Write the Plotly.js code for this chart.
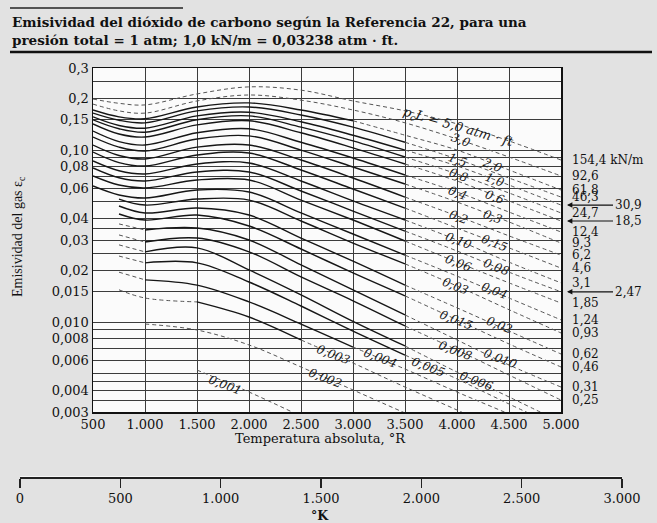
<!DOCTYPE html>
<html><head><meta charset="utf-8">
<script src="https://cdn.plot.ly/plotly-3.0.1.min.js"></script>
<style>html,body{margin:0;padding:0;background:#e2e2e2;}#chart{width:657px;height:523px;}</style>
</head><body><div id="chart"></div>
<script>
// Absolute temperature nodes (°R)
const tempR = [500, 750, 1000, 1500, 2000, 2500, 3000, 3500, 4000, 4500, 5000];

// Emissivity of CO2 for each pcL (atm·ft)
const eps_pL5_0   = [0.198, 0.187, 0.183, 0.212, 0.233, 0.223, 0.193, 0.169, 0.142, 0.113, 0.0875];
const eps_pL3_0   = [0.185, 0.169, 0.164, 0.193, 0.209, 0.195, 0.171, 0.144, 0.116, 0.0911, 0.0707];
const eps_pL2_0   = [0.171, 0.156, 0.152, 0.178, 0.188, 0.171, 0.148, 0.122, 0.100, 0.0766, 0.0586];
const eps_pL1_5   = [0.164, 0.149, 0.144, 0.169, 0.178, 0.160, 0.136, 0.111, 0.0887, 0.0688, 0.0533];
const eps_pL1_0   = [0.156, 0.139, 0.134, 0.158, 0.166, 0.146, 0.122, 0.100, 0.0808, 0.0626, 0.0479];
const eps_pL0_8   = [0.150, 0.133, 0.127, 0.150, 0.158, 0.136, 0.113, 0.0911, 0.0726, 0.0563, 0.0431];
const eps_pL0_6   = [0.142, 0.124, 0.119, 0.140, 0.148, 0.126, 0.103, 0.0830, 0.0661, 0.0506, 0.0387];
const eps_pL0_4   = [0.129, 0.112, 0.107, 0.126, 0.133, 0.111, 0.0899, 0.0716, 0.0570, 0.0436, 0.0334];
const eps_pL0_3   = [0.119, 0.104, 0.0987, 0.116, 0.121, 0.100, 0.0797, 0.0635, 0.0499, 0.0382, 0.0288];
const eps_pL0_2   = [0.107, 0.0930, 0.0887, 0.104, 0.107, 0.0875, 0.0688, 0.0533, 0.0414, 0.0317, 0.0245];
const eps_pL0_15  = [0.0974, 0.0846, 0.0808, 0.0936, 0.0961, 0.0766, 0.0594, 0.0460, 0.0352, 0.0270, 0.0206];
const eps_pL0_10  = [0.0864, 0.0758, 0.0726, 0.0830, 0.0841, 0.0661, 0.0506, 0.0392, 0.0300, 0.0223, 0.0169];
const eps_pL0_08  = [0.0787, 0.0690, 0.0661, 0.0746, 0.0746, 0.0578, 0.0442, 0.0338, 0.0259, 0.0195, 0.0150];
const eps_pL0_06  = [0.0707, 0.0626, 0.0602, 0.0670, 0.0670, 0.0512, 0.0392, 0.0296, 0.0223, 0.0169, 0.0129];
const eps_pL0_04  = [0.0618, 0.0548, 0.0526, 0.0586, 0.0570, 0.0431, 0.0325, 0.0245, 0.0185, 0.0138, 0.0103];
const eps_pL0_03  = [null, 0.0519, 0.0479, 0.0519, 0.0512, 0.0387, 0.0288, 0.0218, 0.0162, 0.0118, 0.00864];
const eps_pL0_02  = [null, 0.0473, 0.0431, 0.0460, 0.0419, 0.0308, 0.0226, 0.0164, 0.0121, 0.00887, 0.00652];
const eps_pL0_015 = [null, 0.0425, 0.0392, 0.0419, 0.0362, 0.0266, 0.0193, 0.0142, 0.0103, 0.00746, 0.00548];
const eps_pL0_010 = [null, 0.0372, 0.0343, 0.0352, 0.0300, 0.0215, 0.0154, 0.0110, 0.00787, 0.00563, 0.00419];
const eps_pL0_008 = [null, 0.0321, 0.0292, 0.0308, 0.0256, 0.0183, 0.0133, 0.00949, 0.00688, 0.00492, 0.00352];
const eps_pL0_006 = [null, 0.0281, 0.0256, 0.0270, 0.0201, 0.0144, 0.0101, 0.00726, 0.00512, 0.00367, 0.00262];
const eps_pL0_005 = [null, 0.0242, 0.0221, 0.0221, 0.0171, 0.0124, 0.00887, 0.00643, 0.00467, 0.00334, 0.00242];
const eps_pL0_004 = [null, 0.0195, 0.0176, 0.0164, 0.0131, 0.00974, 0.00716, 0.00533, 0.00392, 0.00292, 0.00215];
const eps_pL0_003 = [null, 0.0154, 0.0138, 0.0131, 0.0107, 0.00787, 0.00578, 0.00419, 0.00308, 0.00223, null];
const eps_pL0_002 = [null, null, 0.00974, 0.00899, 0.00736, 0.00548, 0.00403, 0.00296, 0.00218, null, null];
const eps_pL0_001 = [null, null, null, 0.00526, 0.00392, 0.00284, 0.00206, null, null, null, null];

// Range (°R) of the solid (measured) part of each curve; null = dashed only
const solidFromT = [null, null, 500, 500, 500, 500, 500, 500, 500, 500, 500, 500, 500, 500, 500, 750, 750, 750, 1000, 1000, 1000, 1000, 1000, 1500, null, null];
const solidToT   = [null, null, 3000, 3500, 3500, 3500, 3500, 3500, 3500, 3500, 3500, 3500, 3500, 3500, 3500, 3500, 3500, 3500, 3500, 3500, 3500, 3500, 3000, 2500, null, null];

// Curve labels drawn on the chart
const labelText = ['p<sub>c</sub>L = 5,0 atm · ft', '3,0', '1,5', '2,0', '0,8', '1,0', '0,4', '0,6', '0,2', '0,3', '0,10', '0,15', '0,06', '0,08', '0,03', '0,04', '0,015', '0,02', '0,008', '0,010', '0,005', '0,006', '0,003', '0,004', '0,002', '0,001'];
const labelT   = [4010, 4029, 4000, 4336, 4010, 4365, 4000, 4356, 4010, 4346, 4019, 4356, 4010, 4375, 3981, 4365, 3990, 4404, 3990, 4423, 3721, 4183, 2817, 3260, 2731, 1769];
const labelEps = [0.136, 0.114, 0.0875, 0.0819, 0.0716, 0.0670, 0.0563, 0.0533, 0.0408, 0.0408, 0.0296, 0.0288, 0.0221, 0.0209, 0.0162, 0.0152, 0.0103, 0.00961, 0.00679, 0.0061, 0.00548, 0.00454, 0.00643, 0.00618, 0.00473, 0.00431];

// kN/m equivalents at the right end
const rightText  = ['154,4 kN/m', '92,6', '61,8', '46,3', '30,9', '24,7', '18,5', '12,4', '9,3', '6,2', '4,6', '3,1', '2,47', '1,85', '1,24', '0,93', '0,62', '0,46', '0,31', '0,25'];
const rightEps   = [0.0875, 0.0707, 0.0586, 0.0533, 0.0479, 0.0431, 0.0387, 0.0334, 0.0288, 0.0245, 0.0206, 0.0169, 0.0150, 0.0129, 0.0103, 0.00864, 0.00652, 0.00548, 0.00419, 0.00352];
const rightArrow = [false, false, false, false, true, false, true, false, false, false, false, false, true, false, false, false, false, false, false, false];

// Axis ticks
const xTickVals = [500, 1000, 1500, 2000, 2500, 3000, 3500, 4000, 4500, 5000];
const xTickText = ['500', '1.000', '1.500', '2.000', '2.500', '3.000', '3.500', '4.000', '4.500', '5.000'];
const kTickVals = [0, 500, 1000, 1500, 2000, 2500, 3000];
const kTickText = ['0', '500', '1.000', '1.500', '2.000', '2.500', '3.000'];
const yTickVals = [0.3, 0.25, 0.2, 0.15, 0.10, 0.09, 0.08, 0.07, 0.06, 0.05, 0.04, 0.035, 0.03, 0.025, 0.02, 0.015, 0.010, 0.009, 0.008, 0.007, 0.006, 0.005, 0.0045, 0.004, 0.0035, 0.003];
const yTickText = ['0,3', ' ', '0,2', '0,15', '0,10', ' ', '0,08', ' ', '0,06', ' ', '0,04', ' ', '0,03', ' ', '0,02', '0,015', '0,010', ' ', '0,008', ' ', '0,006', ' ', ' ', '0,004', ' ', '0,003'];

const curves = [eps_pL5_0, eps_pL3_0, eps_pL2_0, eps_pL1_5, eps_pL1_0, eps_pL0_8, eps_pL0_6, eps_pL0_4, eps_pL0_3, eps_pL0_2,
  eps_pL0_15, eps_pL0_10, eps_pL0_08, eps_pL0_06, eps_pL0_04, eps_pL0_03, eps_pL0_02, eps_pL0_015, eps_pL0_010, eps_pL0_008,
  eps_pL0_006, eps_pL0_005, eps_pL0_004, eps_pL0_003, eps_pL0_002, eps_pL0_001];

// ---- geometry of the page (pixels) ----
const W = 657, H = 523, ML = 20, MR = 35, MT = 68, MB = 46;
const PW = W - ML - MR, PH = H - MT - MB;
const BOT = H - MB;
const px = x => (x - ML) / PW;
const py = y => (BOT - y) / PH;

const SERIF = 'DejaVu Serif, serif';
const TIMES = 'Liberation Serif, serif';

const traces = [];
const solidLine = {color: '#161616', width: 1.4, shape: 'spline', smoothing: 1};
const dashLine = {color: '#555', width: 1, dash: '4px,3px', shape: 'spline', smoothing: 1};
curves.forEach((vals, i) => {
  const pts = [];
  tempR.forEach((t, j) => { if (vals[j] != null) pts.push([t, vals[j]]); });
  const add = (ps, solid) => {
    if (ps.length < 2) return;
    traces.push({type: 'scatter', mode: 'lines', x: ps.map(p => p[0]), y: ps.map(p => p[1]),
      line: solid ? solidLine : dashLine, hoverinfo: 'skip', showlegend: false, xaxis: 'x', yaxis: 'y'});
  };
  const s0 = solidFromT[i], s1 = solidToT[i];
  if (s0 == null) { add(pts, false); }
  else {
    add(pts.filter(p => p[0] <= s0), false);
    add(pts.filter(p => p[0] >= s0 && p[0] <= s1), true);
    add(pts.filter(p => p[0] >= s1), false);
  }
});
// empty trace to host the °K scale
traces.push({type: 'scatter', mode: 'lines', x: [], y: [], xaxis: 'x2', yaxis: 'y2', showlegend: false, hoverinfo: 'skip'});

const annotations = [];
labelText.forEach((t, i) => {
  annotations.push({x: labelT[i], y: Math.log10(labelEps[i]), xref: 'x', yref: 'y', text: t, showarrow: false,
    xanchor: 'center', yanchor: 'middle',
    textangle: i === 0 ? 16 : 21, font: {family: SERIF, size: i === 0 ? 13 : 12, style: 'italic', color: '#1a1a1a'}});
});
rightText.forEach((t, i) => {
  if (rightArrow[i]) {
    annotations.push({x: 5000, y: Math.log10(rightEps[i]), xref: 'x', yref: 'y', text: t, showarrow: true,
      ax: 46, ay: 0, xanchor: 'left', yanchor: 'middle', xshift: 6, arrowhead: 2, arrowsize: 0.9, arrowwidth: 1.2, arrowcolor: '#111',
      font: {family: SERIF, size: 12, color: '#111'}});
  } else {
    annotations.push({x: 5000, y: Math.log10(rightEps[i]), xref: 'x', yref: 'y', text: t, showarrow: false,
      xanchor: 'left', yanchor: 'middle', xshift: 9, font: {family: SERIF, size: 12, color: '#111'}});
  }
});
annotations.push({xref: 'paper', yref: 'paper', x: px(10), y: py(22), xanchor: 'left', yanchor: 'middle', showarrow: false,
  text: 'Emisividad del dióxido de carbono según la Referencia 22, para una', font: {family: SERIF, size: 13.5, weight: 'bold', color: '#111'}});
annotations.push({xref: 'paper', yref: 'paper', x: px(10), y: py(40), xanchor: 'left', yanchor: 'middle', showarrow: false,
  text: 'presión total = 1 atm; 1,0 kN/m = 0,03238 atm · ft.', font: {family: SERIF, size: 13.5, weight: 'bold', color: '#111'}});
annotations.push({xref: 'paper', yref: 'paper', x: px(19), y: py(237), xanchor: 'center', yanchor: 'middle', textangle: -90, showarrow: false,
  text: 'Emisividad del gas ε<sub>c</sub>', font: {family: TIMES, size: 14, color: '#111'}});
annotations.push({xref: 'paper', yref: 'paper', x: px(320), y: py(438), xanchor: 'center', yanchor: 'middle', showarrow: false,
  text: 'Temperatura absoluta, °R', font: {family: SERIF, size: 13, color: '#111'}});
annotations.push({xref: 'paper', yref: 'paper', x: px(320), y: py(515), xanchor: 'center', yanchor: 'middle', showarrow: false,
  text: '°K', font: {family: SERIF, size: 12.5, weight: 'bold', color: '#111'}});

const layout = {
  width: W, height: H,
  margin: {l: ML, r: MR, t: MT, b: MB, pad: 0},
  paper_bgcolor: '#e2e2e2', plot_bgcolor: '#fbfbfb',
  showlegend: false,
  xaxis: {domain: [px(93), px(561)], range: [500, 5000], anchor: 'y', tickvals: xTickVals, ticktext: xTickText,
    showgrid: true, gridcolor: '#3c3c3c', gridwidth: 1, showline: true, mirror: true, linecolor: '#111', linewidth: 1.5,
    ticks: '', zeroline: false, tickfont: {family: SERIF, size: 13, color: '#111'}},
  yaxis: {type: 'log', domain: [py(412), 1], range: [Math.log10(0.003), Math.log10(0.3)], anchor: 'x',
    tickvals: yTickVals, ticktext: yTickText, showgrid: true, gridcolor: '#3c3c3c', gridwidth: 1,
    showline: true, mirror: true, linecolor: '#111', linewidth: 1.5, ticks: '', zeroline: false,
    tickfont: {family: SERIF, size: 13, color: '#111'}},
  xaxis2: {domain: [0, 1], range: [0, 3000], anchor: 'y2', tickvals: kTickVals, ticktext: kTickText,
    showgrid: false, zeroline: false, showline: true, linecolor: '#222', linewidth: 1.8,
    ticks: 'outside', ticklen: 9, tickwidth: 1.5, tickcolor: '#222', tickfont: {family: SERIF, size: 13, color: '#111'}},
  yaxis2: {domain: [0, 0.002], anchor: 'x2', visible: false, range: [0, 1]},
  annotations: annotations,
  shapes: [
    {type: 'line', xref: 'paper', yref: 'paper', x0: px(10), x1: px(183), y0: py(8), y1: py(8), line: {color: '#222', width: 1.3}},
    {type: 'line', xref: 'paper', yref: 'paper', x0: px(10), x1: px(652), y0: py(52), y1: py(52), line: {color: '#111', width: 2.5}}
  ]
};

Plotly.newPlot('chart', traces, layout, {displayModeBar: false, staticPlot: true});
</script>
</body></html>
